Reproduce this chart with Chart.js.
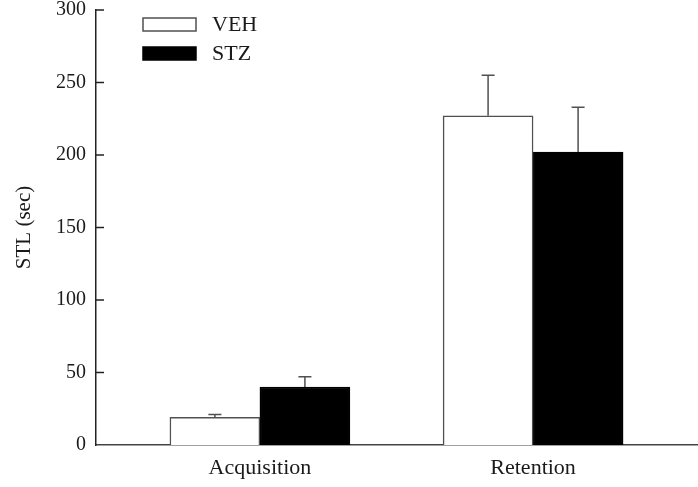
<!DOCTYPE html>
<html>
<head>
<meta charset="utf-8">
<script src="https://cdn.jsdelivr.net/npm/chart.js@4.4.0/dist/chart.umd.min.js"></script>
<style>
  html, body { margin: 0; padding: 0; background: #fff; }
  #wrap { width: 698px; height: 487px; }
</style>
</head>
<body>
<div id="wrap"><canvas id="chart" width="698" height="487"></canvas></div>
<script>
const categories = ['Acquisition', 'Retention'];
const categoryPos = [1, 2];
const groupNames = ['VEH', 'STZ'];
const vehMeans = [19, 227];
const vehErr = [2, 28];
const stzMeans = [40, 202];
const stzErr = [7, 31];
const yTicks = [0, 50, 100, 150, 200, 250, 300];

const serif = '"Liberation Serif", "Times New Roman", serif';
const errors = [vehErr, stzErr];

// error bars (upper half only) on top of the bars
const errorBars = {
    id: 'errorBars',
    afterDatasetsDraw(chart) {
        const ctx = chart.ctx;
        const y = chart.scales.y;
        ctx.save();
        ctx.strokeStyle = '#505050';
        ctx.lineWidth = 1.5;
        chart.data.datasets.forEach((ds, i) => {
            const meta = chart.getDatasetMeta(i);
            meta.data.forEach((bar, j) => {
                const top = y.getPixelForValue(ds.data[j].y + errors[i][j]);
                ctx.beginPath();
                ctx.moveTo(bar.x, bar.y);
                ctx.lineTo(bar.x, top);
                ctx.moveTo(bar.x - 6.5, top);
                ctx.lineTo(bar.x + 6.5, top);
                ctx.stroke();
            });
        });
        ctx.restore();
    }
};

// inward tick marks on the y axis
const innerTicks = {
    id: 'innerTicks',
    afterDraw(chart) {
        const ctx = chart.ctx;
        const y = chart.scales.y;
        const left = chart.chartArea.left;
        ctx.save();
        ctx.strokeStyle = '#222';
        ctx.lineWidth = 1.5;
        yTicks.forEach(v => {
            if (v === 0) return;
            const py = y.getPixelForValue(v);
            ctx.beginPath();
            ctx.moveTo(left, py);
            ctx.lineTo(left + 8, py);
            ctx.stroke();
        });
        ctx.restore();
    }
};

// legend stacked in the top left of the plot
const boxLegend = {
    id: 'boxLegend',
    afterDraw(chart) {
        const ctx = chart.ctx;
        ctx.save();
        ctx.font = '22px ' + serif;
        ctx.textAlign = 'left';
        ctx.textBaseline = 'middle';
        chart.data.datasets.forEach((ds, i) => {
            const by = 18 + i * 29;
            ctx.fillStyle = ds.backgroundColor;
            ctx.fillRect(143, by, 53, 13);
            ctx.strokeStyle = ds.borderColor;
            ctx.lineWidth = 1.5;
            ctx.strokeRect(143, by, 53, 13);
            ctx.fillStyle = '#1a1a1a';
            ctx.fillText(ds.label, 212, by + 7);
        });
        ctx.restore();
    }
};

const toPoints = means => means.map((m, i) => ({ x: categoryPos[i], y: m }));

new Chart(document.getElementById('chart'), {
    type: 'bar',
    data: {
        datasets: [
            {
                label: groupNames[0],
                data: toPoints(vehMeans),
                backgroundColor: '#ffffff',
                borderColor: '#505050',
                borderWidth: 1.5,
                borderSkipped: 'start',
                barThickness: 90
            },
            {
                label: groupNames[1],
                data: toPoints(stzMeans),
                backgroundColor: '#000000',
                borderColor: '#000000',
                borderWidth: 1.5,
                borderSkipped: 'start',
                barThickness: 90
            }
        ]
    },
    options: {
        responsive: false,
        animation: false,
        devicePixelRatio: 1,
        layout: { padding: { top: 10, right: 1, left: 0, bottom: 0 } },
        plugins: {
            legend: { display: false },
            tooltip: { enabled: false }
        },
        scales: {
            x: {
                type: 'linear',
                min: 0.4,
                max: 2.6,
                offset: false,
                afterBuildTicks: s => { s.ticks = categoryPos.map(v => ({ value: v })); },
                afterFit: s => { s.height = 42; s.paddingLeft = 0; s.paddingRight = 0; },
                grid: { display: false, drawTicks: false, offset: false },
                border: { display: true, color: '#444', width: 1.5 },
                ticks: {
                    padding: 10,
                    color: '#1a1a1a',
                    font: { family: serif, size: 22 },
                    callback: v => categories[categoryPos.indexOf(v)]
                }
            },
            y: {
                min: 0,
                max: 300,
                afterBuildTicks: s => { s.ticks = yTicks.map(v => ({ value: v })); },
                afterFit: s => { s.width = 96; s.paddingTop = 0; s.paddingBottom = 0; },
                grid: { display: false, drawTicks: false },
                border: { display: true, color: '#222', width: 1.5 },
                ticks: {
                    padding: 10,
                    color: '#1a1a1a',
                    font: { family: serif, size: 20 }
                },
                title: {
                    display: true,
                    text: 'STL (sec)',
                    color: '#1a1a1a',
                    font: { family: serif, size: 21 },
                    padding: { top: 12, bottom: 0 }
                }
            }
        }
    },
    plugins: [errorBars, innerTicks, boxLegend]
});
</script>
</body>
</html>
